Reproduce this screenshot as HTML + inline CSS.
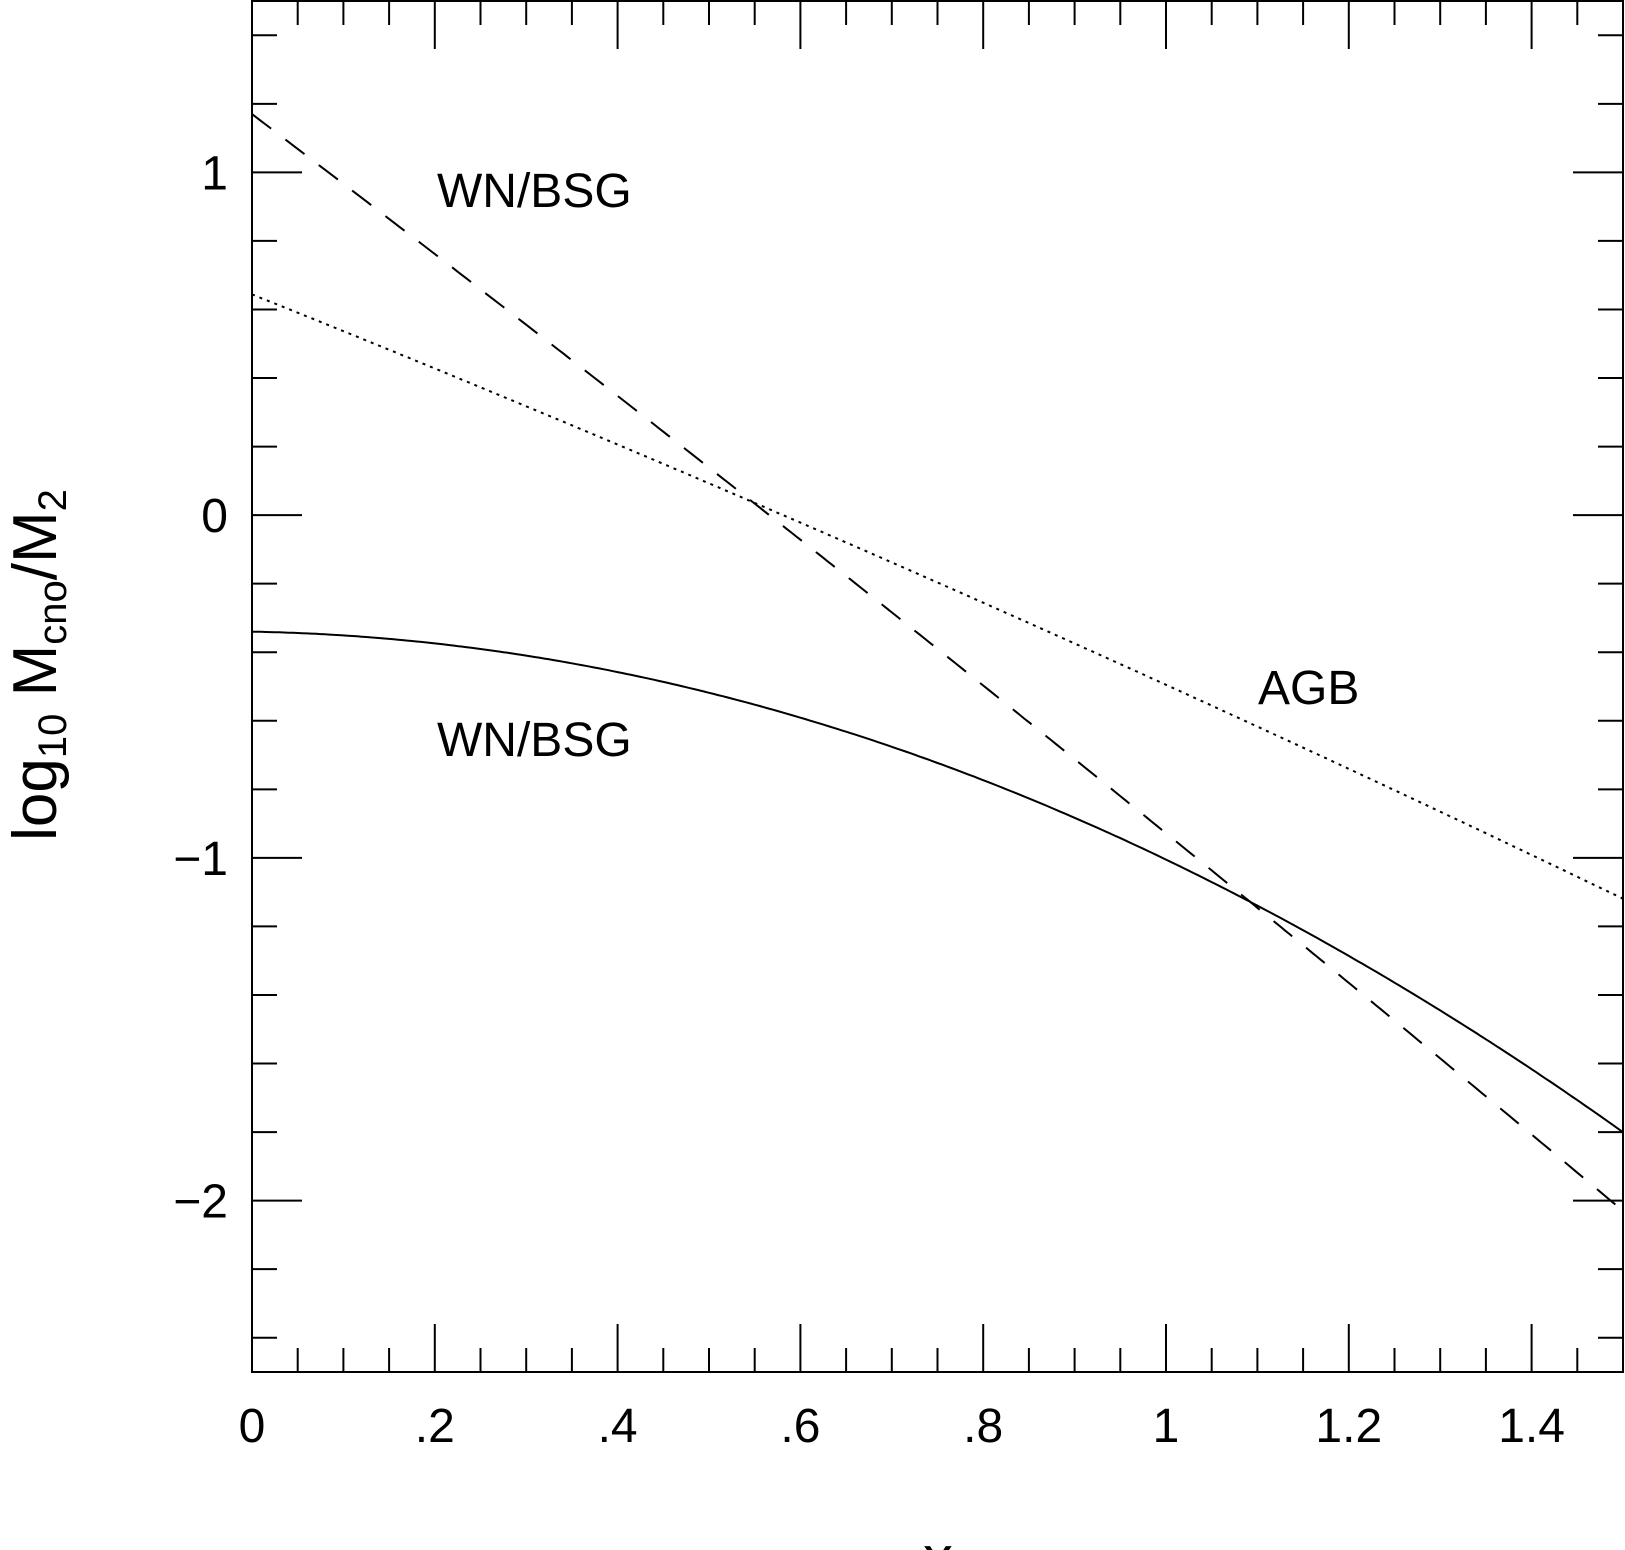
<!DOCTYPE html>
<html><head><meta charset="utf-8"><style>
html,body{margin:0;padding:0;background:#fff;}
svg{display:block;}
text{font-family:"Liberation Sans",sans-serif;fill:#000;}
</style></head><body>
<svg id="s" width="1625" height="1550" viewBox="0 0 1625 1550" xmlns="http://www.w3.org/2000/svg">
<g id="g"></g>
<text x="437" y="207" font-size="48">WN/BSG</text>
<text x="437" y="756" font-size="48">WN/BSG</text>
<text x="1258" y="704" font-size="48">AGB</text>
<text transform="translate(56,665) rotate(-90)" text-anchor="middle" font-size="62">log<tspan font-size="40" dy="10">10</tspan><tspan dy="-10"> M</tspan><tspan font-size="40" dy="10">cno</tspan><tspan dy="-10">/M</tspan><tspan font-size="40" dy="10">2</tspan></text>
<text x="938" y="1578" font-size="60" text-anchor="middle">x</text>
</svg>
<script>
var L=252,R=1623,T=1,B=1372;
function X(x){return L+(x/1.5)*(R-L);}
function Y(y){return T+(1.5-y)/4*(B-T);}
var h='';
h+='<rect x="'+L+'" y="'+T+'" width="'+(R-L)+'" height="'+(B-T)+'" fill="none" stroke="#000" stroke-width="2"/>';
for(var i=1;i<30;i++){var x=X(i*0.05);var big=(i%4==0);var l=big?48:24;
h+='<line x1="'+x+'" y1="'+B+'" x2="'+x+'" y2="'+(B-l)+'" stroke="#000" stroke-width="2"/>';
h+='<line x1="'+x+'" y1="'+T+'" x2="'+x+'" y2="'+(T+l)+'" stroke="#000" stroke-width="2"/>';}
for(var k=-12;k<=7;k++){var y=Y(k*0.2);var big=(k%5==0);var l=big?50:25;
h+='<line x1="'+L+'" y1="'+y+'" x2="'+(L+l)+'" y2="'+y+'" stroke="#000" stroke-width="2"/>';
h+='<line x1="'+R+'" y1="'+y+'" x2="'+(R-l)+'" y2="'+y+'" stroke="#000" stroke-width="2"/>';}
var xl=[['0',0],['.2',.2],['.4',.4],['.6',.6],['.8',.8],['1',1],['1.2',1.2],['1.4',1.4]];
xl.forEach(function(a){h+='<text x="'+X(a[1])+'" y="1442" font-size="48" text-anchor="middle">'+a[0]+'</text>';});
[['1',1],['0',0],['\u22121',-1],['\u22122',-2]].forEach(function(a){h+='<text x="228" y="'+(Y(a[1])+17)+'" font-size="48" text-anchor="end">'+a[0]+'</text>';});
function path(f){var d='';for(var k=0;k<=300;k++){var x=k*1.5/300;d+=(k?'L':'M')+X(x).toFixed(1)+' '+Y(f(x)).toFixed(1);}return d;}
h+='<path d="'+path(function(x){return 1.17-2.027*x-0.071*x*x;})+'" fill="none" stroke="#000" stroke-width="2" stroke-dasharray="24 18"/>';
h+='<path d="'+path(function(x){return 0.644-1.066*x-0.073*x*x;})+'" fill="none" stroke="#000" stroke-width="2" stroke-dasharray="3 5"/>';
h+='<path d="'+path(function(x){return -0.34-0.048*x-0.617*x*x;})+'" fill="none" stroke="#000" stroke-width="2"/>';
document.getElementById('g').innerHTML=h;
</script>
</body></html>
